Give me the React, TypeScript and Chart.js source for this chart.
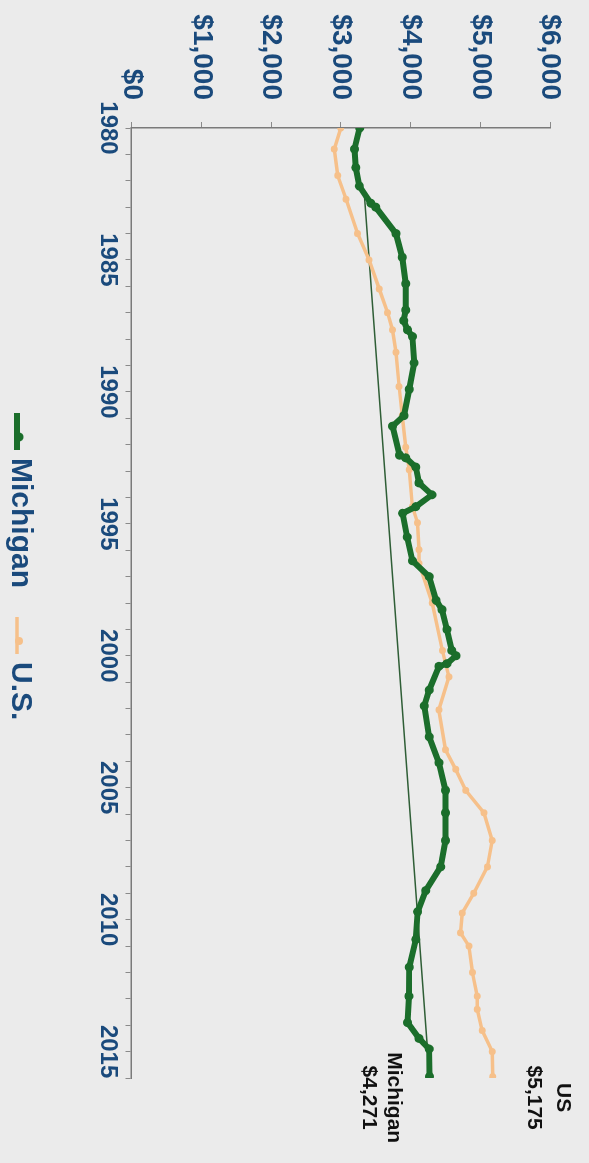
import { useEffect, useRef } from 'react';
import { Chart, registerables } from 'chart.js';

Chart.register(...registerables);

// ---------- data ----------
const michiganYears = [
  1980.0, 1980.8, 1981.5, 1982.2, 1982.85, 1983.0, 1984.0, 1984.9, 1985.9, 1986.9,
  1987.3, 1987.65, 1987.9, 1988.9, 1989.9, 1990.9, 1991.3, 1992.4, 1992.5, 1992.85,
  1993.45, 1993.9, 1994.35, 1994.6, 1995.5, 1996.4, 1997.0, 1997.9, 1998.25, 1999.0,
  1999.8, 2000.0, 2000.3, 2000.4, 2001.3, 2001.9, 2003.07, 2004.05, 2005.1, 2005.95,
  2007.0, 2008.0, 2008.9, 2009.7, 2010.75, 2011.8, 2012.9, 2013.9, 2014.5, 2014.9,
  2015.95,
];
const michiganValues = [
  3270, 3195, 3215, 3265, 3430, 3500, 3790, 3880, 3930, 3930,
  3900, 3955, 4025, 4050, 3980, 3905, 3740, 3840, 3930, 4075,
  4120, 4305, 4075, 3885, 3950, 4025, 4265, 4365, 4450, 4520,
  4590, 4650, 4520, 4405, 4265, 4195, 4265, 4405, 4500, 4500,
  4500, 4430, 4215, 4100, 4075, 3980, 3975, 3955, 4120, 4265,
  4271,
];

const usYears = [
  1980.0, 1980.8, 1981.8, 1982.7, 1984.0, 1985.0, 1986.1, 1987.0, 1987.65, 1988.5,
  1989.8, 1990.9, 1992.1, 1992.95, 1994.35, 1994.96, 1995.98, 1996.5, 1998.0, 1999.8,
  2000.8, 2002.05, 2003.56, 2004.3, 2005.1, 2005.95, 2007.0, 2008.0, 2009.0, 2009.75,
  2010.5, 2011.0, 2012.0, 2012.9, 2013.4, 2014.2, 2015.0, 2015.95,
];
const usValues = [
  3000, 2905, 2955, 3075, 3240, 3405, 3550, 3670, 3740, 3790,
  3835, 3880, 3930, 3980, 4025, 4100, 4120, 4120, 4310, 4455,
  4550, 4405, 4500, 4645, 4790, 5050, 5170, 5100, 4905, 4740,
  4715, 4835, 4885, 4955, 4955, 5025, 5170, 5175,
];

// thin straight line across the Michigan series
const trendYears = [1982.6, 2015.95];
const trendValues = [3340, 4271];

const yearMin = 1980;
const yearMax = 2016;
const valueMin = 0;
const valueMax = 6000;
const valueStep = 1000;

const seriesNames = ['Michigan', 'U.S.'];
const endLabelNames = ['Michigan', 'US'];

// ---------- styles ----------
const GREEN = '#1b6e2b';
const ORANGE = '#f6c08a';
const NAVY = '#1a4a7c';
const FONT = '"Liberation Sans", Arial, sans-serif';
const W = 1163;
const H = 589;

const fmt = (v: number) => '$' + v.toLocaleString('en-US');

const extrasPlugin = {
  id: 'extras',
  afterDatasetsDraw(chart: any) {
    const ctx = chart.ctx as CanvasRenderingContext2D;
    ctx.save();

    // end labels
    const mMeta = chart.getDatasetMeta(0);
    const uMeta = chart.getDatasetMeta(1);
    const mLast = mMeta.data[mMeta.data.length - 1];
    const uLast = uMeta.data[uMeta.data.length - 1];
    ctx.fillStyle = '#111';
    ctx.font = `bold 21px ${FONT}`;
    ctx.textAlign = 'center';
    ctx.textBaseline = 'middle';
    ctx.fillText(endLabelNames[1], uLast.x + 21, uLast.y - 70);
    ctx.fillText(fmt(usValues[usValues.length - 1]), uLast.x + 21, uLast.y - 41);
    ctx.fillText(endLabelNames[0], mLast.x + 21, mLast.y + 36);
    ctx.fillText(fmt(michiganValues[michiganValues.length - 1]), mLast.x + 21, mLast.y + 61);

    // legend
    const items = [
      { name: seriesNames[0], color: GREEN, lw: 6, r: 4.5, x: 413 },
      { name: seriesNames[1], color: ORANGE, lw: 3.5, r: 4, x: 617 },
    ];
    const iconY = 572;
    ctx.font = `bold 30px ${FONT}`;
    ctx.textAlign = 'left';
    ctx.textBaseline = 'alphabetic';
    for (const it of items) {
      ctx.strokeStyle = it.color;
      ctx.lineWidth = it.lw;
      ctx.beginPath();
      ctx.moveTo(it.x, iconY);
      ctx.lineTo(it.x + 37, iconY);
      ctx.stroke();
      ctx.fillStyle = it.color;
      ctx.beginPath();
      ctx.arc(it.x + 24, iconY - 2, it.r, 0, Math.PI * 2);
      ctx.fill();
      ctx.fillStyle = NAVY;
      ctx.fillText(it.name, it.x + 45, 577);
    }
    ctx.restore();
  },
};

export default function App() {
  const ref = useRef<HTMLCanvasElement>(null);

  useEffect(() => {
    const toPts = (xs: number[], ys: number[]) => xs.map((x, i) => ({ x, y: ys[i] }));
    const chart = new Chart(ref.current as HTMLCanvasElement, {
      type: 'line',
      data: {
        datasets: [
          {
            label: seriesNames[0],
            data: toPts(michiganYears, michiganValues),
            borderColor: GREEN,
            backgroundColor: GREEN,
            borderWidth: 6,
            pointRadius: 4.5,
            pointBorderWidth: 0,
            pointBackgroundColor: GREEN,
            tension: 0,
          },
          {
            label: seriesNames[1],
            data: toPts(usYears, usValues),
            borderColor: ORANGE,
            backgroundColor: ORANGE,
            borderWidth: 3.5,
            pointRadius: 3.5,
            pointBorderWidth: 0,
            pointBackgroundColor: ORANGE,
            tension: 0,
          },
          {
            label: 'trend',
            data: toPts(trendYears, trendValues),
            borderColor: '#2f5e36',
            borderWidth: 1.5,
            pointRadius: 0,
            tension: 0,
          },
        ],
      },
      options: {
        responsive: false,
        animation: false,
        events: [],
        layout: { padding: { top: 37.5, right: 85, bottom: 71.5, left: 0 } },
        plugins: {
          legend: { display: false },
          tooltip: { enabled: false },
        },
        scales: {
          x: {
            type: 'linear',
            min: yearMin,
            max: yearMax,
            afterFit: (s: any) => {
              s.height = 60;
            },
            border: { display: true, color: '#7a7a7a', width: 1.5 },
            grid: {
              display: true,
              drawOnChartArea: false,
              drawTicks: true,
              tickLength: 6,
              color: '#8a8a8a',
              lineWidth: 1,
            },
            ticks: {
              stepSize: 1,
              autoSkip: false,
              maxRotation: 0,
              minRotation: 0,
              padding: 3,
              color: NAVY,
              font: { family: FONT, size: 24, weight: 'bold' },
              callback: (v: any) => (Number(v) % 5 === 0 ? String(v) : ''),
            },
          },
          y: {
            type: 'linear',
            min: valueMin,
            max: valueMax,
            afterFit: (s: any) => {
              s.width = 128;
            },
            border: { display: true, color: '#7a7a7a', width: 1.5 },
            grid: {
              display: true,
              drawOnChartArea: false,
              drawTicks: true,
              tickLength: 6,
              color: '#8a8a8a',
              lineWidth: 1,
            },
            ticks: {
              stepSize: valueStep,
              padding: 22,
              color: NAVY,
              font: { family: FONT, size: 28, weight: 'bold' },
              callback: (v: any) => fmt(Number(v)),
            },
          },
        },
      } as any,
      plugins: [extrasPlugin],
    });
    return () => chart.destroy();
  }, []);

  return (
    <div
      style={{
        position: 'absolute',
        left: 0,
        top: 0,
        width: 589,
        height: 1163,
        background: '#ebebeb',
        overflow: 'hidden',
      }}
    >
      <div
        style={{
          position: 'absolute',
          left: 0,
          top: 0,
          width: W,
          height: H,
          transformOrigin: '0 0',
          transform: 'translateX(589px) rotate(90deg)',
        }}
      >
        <canvas ref={ref} width={W} height={H} style={{ display: 'block', width: W, height: H }} />
      </div>
    </div>
  );
}
